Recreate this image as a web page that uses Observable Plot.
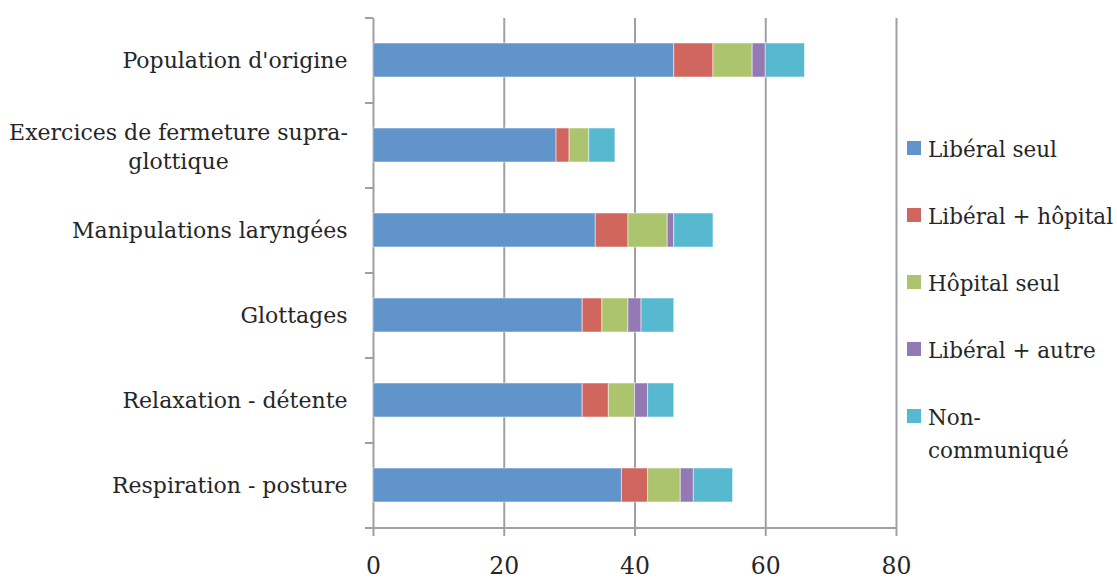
<!DOCTYPE html>
<html>
<head>
<meta charset="utf-8">
<script src="https://cdn.jsdelivr.net/npm/d3@7"></script>
<script src="https://cdn.jsdelivr.net/npm/@observablehq/plot@0.6"></script>
<style>
  html, body { margin: 0; padding: 0; background: #ffffff; }
  #wrap { position: relative; width: 1117px; height: 581px; overflow: hidden; }
  #legend { position: absolute; left: 907px; top: 133px; font-family: "DejaVu Serif"; font-size: 21.5px; color: #262626; }
  .item { display: flex; align-items: flex-start; height: 67px; }
  .sw { width: 14px; height: 14px; margin-top: 8px; margin-right: 7px; flex: none; }
  .lab { line-height: 33px; white-space: pre; }
</style>
</head>
<body>
<div id="wrap"><div id="legend"></div></div>
<script>
const categories = [
  "Population d'origine",
  "Exercices de fermeture supra-glottique",
  "Manipulations laryngées",
  "Glottages",
  "Relaxation - détente",
  "Respiration - posture"
];
const series = ["Libéral seul", "Libéral + hôpital", "Hôpital seul", "Libéral + autre", "Non-communiqué"];
const legendLabels = ["Libéral seul", "Libéral + hôpital", "Hôpital seul", "Libéral + autre", "Non-\ncommuniqué"];
const liberalSeul    = [46, 28, 34, 32, 32, 38];
const liberalHopital = [6, 2, 5, 3, 4, 4];
const hopitalSeul    = [6, 3, 6, 4, 4, 5];
const liberalAutre   = [2, 0, 1, 2, 2, 2];
const nonCommunique  = [6, 4, 6, 5, 4, 6];
const xTicks = [0, 20, 40, 60, 80];
const colors = ["#6094ca", "#d0665e", "#acc46e", "#947ab4", "#56b9d0"];

const seriesValues = [liberalSeul, liberalHopital, hopitalSeul, liberalAutre, nonCommunique];
const rows = [];
categories.forEach((c, i) => {
  series.forEach((s, j) => rows.push({category: c, series: s, value: seriesValues[j][i]}));
});

const W = 1117, H = 581, mL = 373, mR = 221, mT = 18, mB = 53;
const step = (H - mT - mB) / categories.length;
const gridColor = "#a0a0a4";
const textColor = "#262626";
const longCat = categories[1];
const normalCats = categories.filter(c => c !== longCat);
const lastCat = categories[categories.length - 1];

const chart = Plot.plot({
  width: W, height: H,
  marginLeft: mL, marginRight: mR, marginTop: mT, marginBottom: mB,
  style: {fontFamily: "DejaVu Serif", fontSize: "22px", color: textColor, background: "white"},
  x: {domain: [0, 80], ticks: xTicks, label: null},
  y: {domain: categories, paddingInner: 0.6, paddingOuter: 0.3, label: null, axis: null},
  color: {domain: series, range: colors},
  marks: [
    Plot.gridX(xTicks, {stroke: gridColor, strokeWidth: 2, strokeOpacity: 1}),
    Plot.ruleY([lastCat], {dy: step / 2, stroke: gridColor, strokeWidth: 2}),
    Plot.barX(rows, {x: "value", y: "category", fill: "series", order: series, stroke: "white", strokeOpacity: 0.5, strokeWidth: 1}),
    Plot.axisX({ticks: xTicks, tickSize: 8, tickPadding: 21, stroke: gridColor, strokeWidth: 2, strokeOpacity: 1, fontSize: 23.5, fill: textColor, label: null}),
    Plot.axisY({ticks: categories, tickSize: 8, tickFormat: () => "", dy: -step / 2, stroke: gridColor, strokeWidth: 2, strokeOpacity: 1, label: null}),
    Plot.axisY({ticks: [lastCat], tickSize: 8, tickFormat: () => "", dy: step / 2, stroke: gridColor, strokeWidth: 2, strokeOpacity: 1, label: null}),
    Plot.axisY({ticks: normalCats, tickSize: 0, tickPadding: 26, fontSize: 22, fill: textColor, label: null}),
    Plot.axisY({ticks: [longCat], tickSize: 0, tickPadding: 195, textAnchor: "middle", lineHeight: 1.3, fontSize: 22, fill: textColor, label: null,
      tickFormat: () => "Exercices de fermeture supra-\nglottique"})
  ]
});
document.getElementById("wrap").prepend(chart);

const legend = document.getElementById("legend");
series.forEach((s, i) => {
  const item = document.createElement("div");
  item.className = "item";
  const sw = document.createElement("div");
  sw.className = "sw";
  sw.style.background = colors[i];
  const lab = document.createElement("div");
  lab.className = "lab";
  lab.textContent = legendLabels[i];
  item.appendChild(sw);
  item.appendChild(lab);
  legend.appendChild(item);
});
</script>
</body>
</html>
